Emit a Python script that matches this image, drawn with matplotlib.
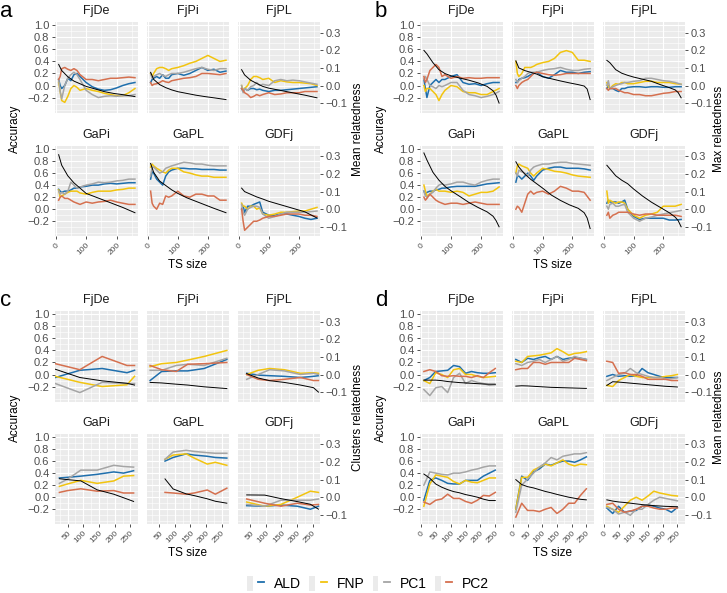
import matplotlib
matplotlib.use("Agg")
import matplotlib.pyplot as plt
from matplotlib.lines import Line2D
from matplotlib.patches import Rectangle
from matplotlib.legend_handler import HandlerTuple

plt.rcParams['font.family'] = ['Liberation Sans', 'DejaVu Sans']

W, H = 727, 593
K = 2.92            # accuracy units per relatedness unit (secondary axis)
YLIM = (-0.45, 1.05)

FACETS = ['FjDe', 'FjPi', 'FjPL', 'GaPi', 'GaPL', 'GDFj']
METHODS = ['ALD', 'FNP', 'PC1', 'PC2']
COLORS = {'ALD': '#1F6FAD', 'FNP': '#F2C40F', 'PC1': '#A5A5A5', 'PC2': '#D5704F'}

# --- panel a / b : training sets grown by relatedness ---
ab_x = [10, 15, 20, 30, 40, 50, 60, 70, 80, 100, 120, 140, 160, 180, 200, 220, 240, 260]
a_rel_x = [10, 20, 40, 60, 80, 100, 130, 160, 190, 220, 260]
b_rel_x = [10, 20, 40, 60, 80, 100, 130, 160, 190, 220, 240, 250, 260]

a_FjDe = dict(
    ALD=[0.10, 0.00, -0.05, 0.00, 0.12, 0.08, 0.18, 0.20, 0.15, 0.05, -0.02, -0.06, -0.08, -0.07, -0.04, 0.00, 0.03, 0.05],
    FNP=[0.05, -0.10, -0.25, -0.28, -0.18, -0.05, 0.00, -0.03, -0.08, -0.05, -0.08, -0.10, -0.13, -0.15, -0.17, -0.17, -0.12, -0.05],
    PC1=[0.10, -0.10, -0.22, 0.00, 0.12, 0.18, 0.22, 0.18, 0.10, -0.08, -0.15, -0.20, -0.18, -0.17, -0.18, -0.17, -0.17, -0.15],
    PC2=[0.10, 0.15, 0.28, 0.30, 0.27, 0.25, 0.28, 0.25, 0.18, 0.10, 0.10, 0.08, 0.10, 0.12, 0.12, 0.13, 0.14, 0.13],
    rel=[0.12, 0.085, 0.05, 0.025, 0.01, -0.005, -0.02, -0.035, -0.045, -0.052, -0.063])
a_FjPi = dict(
    ALD=[0.05, 0.10, 0.12, 0.15, 0.12, 0.18, 0.12, 0.12, 0.18, 0.20, 0.17, 0.20, 0.25, 0.30, 0.25, 0.27, 0.22, 0.24],
    FNP=[0.20, 0.15, 0.20, 0.28, 0.30, 0.30, 0.28, 0.25, 0.28, 0.30, 0.33, 0.37, 0.40, 0.45, 0.50, 0.45, 0.40, 0.42],
    PC1=[0.20, 0.12, 0.15, 0.18, 0.20, 0.17, 0.15, 0.18, 0.20, 0.20, 0.22, 0.25, 0.28, 0.30, 0.27, 0.25, 0.28, 0.28],
    PC2=[0.05, 0.00, 0.02, 0.03, 0.05, 0.08, 0.06, 0.05, 0.08, 0.10, 0.12, 0.13, 0.15, 0.20, 0.20, 0.19, 0.18, 0.20],
    rel=[0.075, 0.035, 0.005, -0.012, -0.025, -0.035, -0.045, -0.055, -0.063, -0.07, -0.08])
a_FjPL = dict(
    ALD=[-0.05, -0.10, -0.05, -0.08, -0.05, -0.05, -0.07, -0.06, -0.08, -0.10, -0.08, -0.08, -0.07, -0.06, -0.05, -0.04, -0.03, -0.02],
    FNP=[0.00, -0.08, -0.05, 0.00, 0.10, 0.15, 0.15, 0.13, 0.10, 0.12, 0.05, 0.08, 0.06, 0.05, 0.05, 0.04, 0.03, 0.00],
    PC1=[0.00, -0.12, -0.05, -0.08, -0.02, 0.00, 0.05, 0.00, 0.02, 0.00, 0.08, 0.10, 0.08, 0.09, 0.08, 0.06, 0.04, 0.02],
    PC2=[-0.05, -0.08, -0.12, -0.15, -0.20, -0.18, -0.15, -0.17, -0.15, -0.12, -0.15, -0.14, -0.12, -0.12, -0.12, -0.10, -0.10, -0.10],
    rel=[0.09, 0.06, 0.03, 0.012, -0.005, -0.015, -0.025, -0.035, -0.045, -0.055, -0.07])
a_GaPi = dict(
    ALD=[0.33, 0.30, 0.28, 0.30, 0.30, 0.32, 0.35, 0.35, 0.37, 0.38, 0.40, 0.40, 0.42, 0.43, 0.42, 0.43, 0.44, 0.44],
    FNP=[0.32, 0.20, 0.22, 0.25, 0.28, 0.30, 0.30, 0.30, 0.27, 0.25, 0.28, 0.30, 0.30, 0.30, 0.32, 0.33, 0.35, 0.35],
    PC1=[0.30, 0.25, 0.28, 0.25, 0.30, 0.45, 0.40, 0.35, 0.37, 0.40, 0.42, 0.45, 0.44, 0.45, 0.47, 0.48, 0.50, 0.50],
    PC2=[0.15, 0.20, 0.22, 0.18, 0.18, 0.15, 0.12, 0.10, 0.08, 0.12, 0.10, 0.12, 0.13, 0.15, 0.12, 0.10, 0.08, 0.08],
    rel=[0.31, 0.25, 0.19, 0.15, 0.12, 0.09, 0.07, 0.05, 0.03, 0.01, -0.02])
a_GaPL = dict(
    ALD=[0.50, 0.62, 0.60, 0.50, 0.45, 0.40, 0.55, 0.62, 0.65, 0.68, 0.68, 0.67, 0.67, 0.66, 0.66, 0.66, 0.65, 0.65],
    FNP=[0.70, 0.75, 0.72, 0.68, 0.65, 0.62, 0.60, 0.65, 0.68, 0.68, 0.62, 0.60, 0.57, 0.55, 0.55, 0.53, 0.53, 0.53],
    PC1=[0.55, 0.70, 0.70, 0.65, 0.60, 0.62, 0.68, 0.70, 0.72, 0.75, 0.78, 0.77, 0.75, 0.75, 0.73, 0.72, 0.72, 0.72],
    PC2=[0.30, 0.10, 0.05, 0.00, 0.10, 0.08, 0.22, 0.20, 0.22, 0.30, 0.22, 0.20, 0.25, 0.25, 0.22, 0.22, 0.15, 0.15],
    rel=[0.26, 0.21, 0.16, 0.135, 0.11, 0.09, 0.065, 0.045, 0.025, 0.005, -0.02])
a_GDFj = dict(
    ALD=[0.00, 0.05, -0.05, 0.05, 0.05, 0.08, 0.10, 0.12, -0.05, -0.10, -0.10, -0.08, -0.08, -0.10, -0.12, -0.15, -0.17, -0.15],
    FNP=[0.10, 0.05, 0.05, 0.00, 0.05, 0.05, 0.00, 0.02, -0.08, -0.10, -0.08, -0.05, -0.05, -0.04, -0.03, -0.03, 0.00, 0.03],
    PC1=[0.08, -0.05, -0.10, 0.00, 0.03, 0.05, 0.05, 0.03, -0.08, -0.15, -0.12, -0.08, -0.05, -0.05, -0.05, -0.05, -0.04, -0.03],
    PC2=[0.00, -0.20, -0.35, -0.30, -0.25, -0.20, -0.20, -0.18, -0.15, -0.12, -0.12, -0.10, -0.08, -0.08, -0.08, -0.10, -0.10, -0.12],
    rel=[0.12, 0.10, 0.085, 0.07, 0.058, 0.045, 0.03, 0.015, 0.0, -0.015, -0.05])

b_FjDe = dict(
    ALD=[0.10, -0.05, -0.20, 0.00, 0.05, 0.10, 0.05, 0.10, 0.10, 0.15, 0.18, 0.05, 0.02, 0.03, 0.00, 0.03, 0.05, 0.05],
    FNP=[0.00, -0.10, -0.05, -0.05, -0.10, -0.15, -0.25, -0.15, -0.08, 0.00, -0.02, -0.10, -0.12, -0.12, -0.15, -0.15, -0.10, -0.05],
    PC1=[0.10, 0.15, 0.10, 0.00, -0.02, -0.05, 0.00, -0.02, 0.00, 0.05, 0.05, -0.08, -0.15, -0.17, -0.20, -0.18, -0.15, -0.10],
    PC2=[0.15, 0.05, 0.10, 0.25, 0.30, 0.35, 0.30, 0.15, 0.18, 0.12, 0.15, 0.12, 0.13, 0.12, 0.12, 0.13, 0.13, 0.13],
    rel=[0.20, 0.18, 0.13, 0.09, 0.068, 0.055, 0.042, 0.03, 0.015, -0.005, -0.03, -0.055, -0.10])
b_FjPi = dict(
    ALD=[0.05, 0.05, 0.10, 0.12, 0.13, 0.15, 0.18, 0.20, 0.22, 0.15, 0.12, 0.18, 0.25, 0.22, 0.22, 0.20, 0.22, 0.23],
    FNP=[0.40, 0.20, 0.15, 0.20, 0.30, 0.30, 0.30, 0.32, 0.35, 0.38, 0.40, 0.45, 0.55, 0.58, 0.55, 0.42, 0.42, 0.40],
    PC1=[0.10, 0.05, 0.08, 0.12, 0.15, 0.20, 0.22, 0.22, 0.22, 0.25, 0.27, 0.28, 0.30, 0.27, 0.25, 0.25, 0.27, 0.28],
    PC2=[0.00, -0.05, 0.00, 0.05, 0.08, 0.10, 0.15, 0.20, 0.22, 0.20, 0.18, 0.17, 0.18, 0.20, 0.20, 0.20, 0.20, 0.20],
    rel=[0.14, 0.10, 0.085, 0.075, 0.065, 0.05, 0.038, 0.026, 0.015, 0.005, -0.003, -0.02, -0.08])
b_FjPL = dict(
    ALD=[-0.05, 0.00, -0.05, -0.05, -0.08, -0.10, -0.05, -0.05, -0.03, -0.02, -0.02, -0.03, -0.02, -0.02, -0.03, -0.03, -0.02, -0.02],
    FNP=[0.05, -0.02, -0.05, 0.00, 0.03, 0.02, 0.05, 0.05, 0.03, 0.03, 0.05, 0.07, 0.07, 0.05, 0.05, 0.05, 0.03, 0.02],
    PC1=[0.00, 0.08, -0.05, -0.02, 0.00, 0.02, 0.03, 0.05, 0.05, 0.07, 0.08, 0.12, 0.12, 0.10, 0.08, 0.07, 0.05, 0.02],
    PC2=[-0.05, -0.08, -0.05, -0.05, -0.05, -0.08, -0.10, -0.12, -0.12, -0.15, -0.15, -0.17, -0.17, -0.15, -0.13, -0.12, -0.10, -0.10],
    rel=[0.143, 0.13, 0.09, 0.07, 0.058, 0.048, 0.036, 0.024, 0.005, -0.012, -0.025, -0.04, -0.07])
b_GaPi = dict(
    ALD=[0.30, 0.25, 0.28, 0.30, 0.30, 0.32, 0.33, 0.35, 0.35, 0.37, 0.38, 0.38, 0.38, 0.38, 0.40, 0.42, 0.43, 0.44],
    FNP=[0.40, 0.30, 0.22, 0.25, 0.30, 0.33, 0.30, 0.30, 0.30, 0.28, 0.30, 0.28, 0.22, 0.25, 0.28, 0.28, 0.30, 0.37],
    PC1=[0.30, 0.22, 0.20, 0.25, 0.28, 0.35, 0.40, 0.42, 0.40, 0.42, 0.45, 0.45, 0.42, 0.40, 0.45, 0.48, 0.50, 0.50],
    PC2=[0.20, 0.15, 0.18, 0.25, 0.20, 0.15, 0.12, 0.10, 0.08, 0.10, 0.10, 0.08, 0.10, 0.12, 0.10, 0.08, 0.08, 0.08],
    rel=[0.32, 0.28, 0.21, 0.165, 0.13, 0.105, 0.072, 0.038, 0.01, -0.015, -0.04, -0.065, -0.10])
b_GaPL = dict(
    ALD=[0.45, 0.55, 0.55, 0.50, 0.55, 0.60, 0.55, 0.48, 0.55, 0.65, 0.68, 0.70, 0.70, 0.68, 0.68, 0.68, 0.67, 0.65],
    FNP=[0.60, 0.72, 0.75, 0.72, 0.70, 0.68, 0.60, 0.55, 0.60, 0.68, 0.66, 0.63, 0.62, 0.60, 0.57, 0.55, 0.54, 0.53],
    PC1=[0.60, 0.55, 0.65, 0.62, 0.60, 0.55, 0.65, 0.70, 0.72, 0.75, 0.75, 0.77, 0.78, 0.78, 0.76, 0.75, 0.74, 0.73],
    PC2=[0.00, 0.05, 0.03, -0.05, 0.10, 0.25, 0.30, 0.25, 0.28, 0.30, 0.25, 0.30, 0.38, 0.35, 0.30, 0.30, 0.28, 0.15],
    rel=[0.27, 0.24, 0.20, 0.17, 0.145, 0.12, 0.08, 0.05, 0.025, 0.005, -0.02, -0.05, -0.11])
b_GDFj = dict(
    ALD=[0.10, 0.15, 0.12, 0.12, 0.12, 0.10, 0.12, 0.15, 0.00, -0.12, -0.17, -0.15, -0.15, -0.15, -0.15, -0.18, -0.18, -0.17],
    FNP=[0.30, 0.10, 0.15, 0.12, 0.10, 0.12, 0.12, 0.10, 0.00, -0.10, -0.15, -0.10, -0.08, -0.05, 0.05, 0.05, 0.05, 0.08],
    PC1=[0.05, 0.00, 0.08, 0.10, 0.05, 0.05, 0.07, 0.08, -0.05, -0.15, -0.20, -0.15, -0.13, -0.10, -0.08, -0.06, -0.04, -0.02],
    PC2=[-0.10, -0.05, -0.15, -0.10, -0.08, -0.05, -0.05, -0.05, -0.05, -0.08, -0.10, -0.08, -0.08, -0.10, -0.10, -0.10, -0.10, -0.12],
    rel=[0.25, 0.23, 0.19, 0.165, 0.145, 0.115, 0.075, 0.04, 0.01, -0.02, -0.045, -0.065, -0.10])

# --- panel c : training sets grown by clusters (own sizes per pair) ---
c_x = dict(
    FjDe=[11, 89, 160, 239, 263],
    FjPi=[20, 57, 104, 141, 194, 267],
    FjPL=[38, 75, 112, 159, 211, 253, 269],
    GaPi=[24, 50, 92, 144, 197, 228, 260],
    GaPL=[68, 94, 136, 162, 204, 230, 267],
    GDFj=[38, 96, 148, 201, 243, 269])
c_FjDe = dict(ALD=[-0.05, 0.07, 0.10, 0.03, 0.07], FNP=[-0.03, -0.13, -0.20, -0.17, -0.03],
              PC1=[-0.15, -0.30, -0.13, -0.15, -0.15], PC2=[0.18, 0.08, 0.30, 0.15, 0.15],
              rel=[0.03, -0.017, -0.036, -0.05, -0.06])
c_FjPi = dict(ALD=[-0.10, 0.05, 0.06, 0.06, 0.10, 0.25], FNP=[0.13, 0.18, 0.20, 0.24, 0.30, 0.40],
              PC1=[0.07, 0.07, 0.15, 0.17, 0.15, 0.27], PC2=[0.15, 0.08, 0.05, 0.17, 0.18, 0.20],
              rel=[-0.045, -0.048, -0.055, -0.06, -0.07, -0.08])
c_FjPL = dict(ALD=[0.02, -0.01, -0.02, -0.03, -0.05, -0.03, -0.02], FNP=[0.00, 0.07, 0.10, 0.08, 0.02, 0.03, 0.02],
              PC1=[-0.08, 0.00, 0.08, 0.06, 0.00, 0.02, 0.00], PC2=[0.00, -0.08, -0.10, -0.08, -0.05, -0.10, -0.10],
              rel=[0.005, -0.02, -0.035, -0.045, -0.06, -0.075, -0.10])
c_GaPi = dict(ALD=[0.32, 0.33, 0.35, 0.38, 0.42, 0.40, 0.44], FNP=[0.18, 0.22, 0.28, 0.23, 0.27, 0.35, 0.36],
              PC1=[0.23, 0.30, 0.45, 0.45, 0.53, 0.51, 0.50], PC2=[0.08, 0.11, 0.14, 0.10, 0.11, 0.07, 0.07],
              rel=[0.105, 0.10, 0.093, 0.042, 0.017, -0.003, -0.024])
c_GaPL = dict(ALD=[0.60, 0.66, 0.72, 0.70, 0.68, 0.66, 0.65], FNP=[0.63, 0.70, 0.72, 0.65, 0.55, 0.58, 0.53],
              PC1=[0.63, 0.75, 0.78, 0.76, 0.74, 0.73, 0.73], PC2=[0.08, 0.07, 0.05, 0.07, 0.12, 0.05, 0.15],
              rel=[0.104, 0.047, 0.019, 0.009, -0.009, -0.023, -0.034])
c_GDFj = dict(ALD=[-0.14, -0.15, -0.13, -0.15, -0.20, -0.15], FNP=[-0.08, -0.15, -0.12, 0.00, 0.10, 0.08],
              PC1=[-0.12, -0.15, -0.05, -0.05, -0.05, -0.03], PC2=[-0.03, -0.10, -0.15, -0.10, -0.13, -0.12],
              rel=[0.013, 0.012, -0.008, -0.025, -0.04, -0.068])

# --- panel d : random training sets, mean relatedness ---
d_x = [10, 30, 50, 70, 90, 110, 130, 150, 170, 190, 210, 230, 250]
d_FjDe = dict(
    ALD=[-0.10, -0.05, 0.05, 0.06, 0.07, 0.15, 0.13, 0.02, 0.05, 0.03, 0.02, 0.02, 0.03],
    FNP=[-0.10, -0.15, 0.03, 0.00, -0.05, 0.08, 0.10, 0.00, 0.00, -0.03, -0.05, -0.04, -0.03],
    PC1=[-0.25, -0.35, -0.22, -0.20, -0.30, -0.05, 0.02, -0.15, -0.10, -0.13, -0.15, -0.18, -0.17],
    PC2=[0.05, 0.08, 0.05, -0.02, -0.03, -0.02, -0.03, -0.03, -0.05, -0.02, -0.05, 0.03, 0.10],
    rel=[-0.032, -0.032, -0.032, -0.035, -0.04, -0.043, -0.046, -0.048, -0.05, -0.052, -0.054, -0.055, -0.055])
d_FjPi = dict(
    ALD=[0.25, 0.20, 0.27, 0.25, 0.28, 0.30, 0.25, 0.30, 0.25, 0.27, 0.28, 0.27, 0.25],
    FNP=[0.22, 0.20, 0.30, 0.31, 0.32, 0.34, 0.36, 0.43, 0.38, 0.32, 0.35, 0.36, 0.38],
    PC1=[0.18, 0.15, 0.20, 0.22, 0.25, 0.20, 0.25, 0.30, 0.22, 0.25, 0.30, 0.27, 0.25],
    PC2=[0.08, 0.10, 0.10, 0.20, 0.20, 0.17, 0.20, 0.20, 0.20, 0.20, 0.27, 0.25, 0.23],
    rel=[-0.066, -0.064, -0.065, -0.067, -0.069, -0.071, -0.073, -0.074, -0.075, -0.076, -0.077, -0.078, -0.079])
d_FjPL = dict(
    ALD=[-0.03, 0.00, -0.03, -0.02, -0.03, -0.02, 0.10, 0.03, 0.00, -0.03, -0.05, -0.05, -0.05],
    FNP=[-0.18, -0.20, -0.10, -0.05, 0.00, -0.03, -0.05, -0.05, -0.05, -0.05, -0.03, -0.02, 0.00],
    PC1=[-0.10, -0.05, 0.00, 0.02, 0.10, 0.03, 0.00, -0.03, -0.05, -0.05, -0.07, -0.07, -0.05],
    PC2=[0.22, 0.20, 0.02, 0.03, 0.00, 0.00, -0.03, -0.08, -0.08, -0.08, -0.08, -0.10, -0.10],
    rel=[-0.062, -0.041, -0.043, -0.046, -0.049, -0.052, -0.055, -0.058, -0.061, -0.064, -0.067, -0.069, -0.071])
d_GaPi = dict(
    ALD=[-0.05, 0.28, 0.32, 0.28, 0.23, 0.22, 0.22, 0.28, 0.28, 0.28, 0.35, 0.40, 0.45],
    FNP=[-0.15, 0.22, 0.37, 0.35, 0.33, 0.26, 0.22, 0.28, 0.25, 0.24, 0.28, 0.32, 0.32],
    PC1=[0.20, 0.42, 0.40, 0.38, 0.37, 0.40, 0.40, 0.42, 0.45, 0.47, 0.50, 0.52, 0.52],
    PC2=[-0.08, -0.12, -0.05, -0.03, 0.05, -0.02, -0.02, -0.07, -0.10, -0.05, 0.03, 0.02, 0.08],
    rel=[0.132, 0.108, 0.075, 0.057, 0.043, 0.032, 0.025, 0.015, 0.008, 0.0, -0.011, -0.019, -0.019])
d_GaPL = dict(
    ALD=[-0.20, 0.35, 0.28, 0.42, 0.47, 0.55, 0.53, 0.57, 0.60, 0.60, 0.58, 0.62, 0.67],
    FNP=[-0.20, 0.33, 0.33, 0.45, 0.50, 0.55, 0.52, 0.57, 0.62, 0.55, 0.52, 0.55, 0.54],
    PC1=[-0.25, 0.20, 0.30, 0.40, 0.50, 0.57, 0.66, 0.62, 0.68, 0.70, 0.72, 0.72, 0.74],
    PC2=[-0.33, -0.10, -0.22, -0.22, -0.24, -0.20, -0.17, -0.27, -0.20, -0.10, -0.10, 0.03, 0.14],
    rel=[0.10, 0.072, 0.06, 0.053, 0.043, 0.033, 0.025, 0.016, 0.008, 0.0, -0.006, -0.012, -0.015])
d_GDFj = dict(
    ALD=[-0.18, -0.27, -0.15, -0.25, -0.23, -0.22, -0.15, -0.13, -0.15, -0.18, -0.20, -0.25, -0.17],
    FNP=[-0.15, -0.20, -0.25, -0.15, -0.05, 0.00, -0.05, 0.02, 0.10, 0.07, 0.05, 0.03, 0.02],
    PC1=[-0.17, -0.20, -0.28, -0.25, -0.30, -0.20, -0.20, -0.12, -0.05, 0.00, -0.02, -0.04, -0.06],
    PC2=[-0.12, -0.10, -0.20, -0.25, -0.23, -0.20, -0.15, -0.15, -0.18, -0.20, -0.20, -0.18, -0.18],
    rel=[-0.015, -0.022, -0.027, -0.03, -0.034, -0.038, -0.042, -0.045, -0.048, -0.05, -0.052, -0.053, -0.054])


def fmt(v):
    return f"{v:.1f}".replace('-', '\u2212')


def px_axes(fig, x0, x1, y0, y1):
    return fig.add_axes([x0 / W, 1 - y1 / H, (x1 - x0) / W, (y1 - y0) / H])


def draw_panel(fig, data, xs, rel_xs, cols, rows, xlim, xmaj, xmin,
               letter, right_label, ylab_x, rlab_x):
    for i, f in enumerate(FACETS):
        r, c = divmod(i, 3)
        (x0, x1), (y0, y1) = cols[c], rows[r]
        ax = px_axes(fig, x0, x1, y0, y1)
        ax.set_facecolor('#EBEBEB')
        ax.set_axisbelow(True)
        for s in ax.spines.values():
            s.set_visible(False)
        for m in METHODS:
            ax.plot(xs[f], data[f][m], color=COLORS[m], lw=1.1, solid_joinstyle='round')
        ax.set_xlim(*xlim)
        ax.set_ylim(*YLIM)
        ax.set_xticks(xmaj)
        ax.set_xticks(xmin, minor=True)
        ymaj = [-0.2, 0.0, 0.2, 0.4, 0.6, 0.8, 1.0]
        ax.set_yticks(ymaj)
        ax.set_yticks([-0.4, -0.3, -0.1, 0.1, 0.3, 0.5, 0.7, 0.9], minor=True)
        ax.grid(which='major', color='white', lw=0.8)
        ax.grid(which='minor', color='white', lw=0.4)
        ax.tick_params(which='minor', length=0)
        ax.tick_params(which='major', color='#333333', length=2.5, width=0.6,
                       labelsize=8, labelcolor='#4D4D4D', pad=1.5)
        ax.tick_params(axis='x', labelsize=6)
        if r == 1:
            ax.set_xticklabels([str(v) for v in xmaj])
            plt.setp(ax.get_xticklabels(), rotation=45, ha='right', va='top',
                     rotation_mode='anchor')
        else:
            ax.tick_params(axis='x', length=0, labelbottom=False)
        if c == 0:
            ax.set_yticklabels([fmt(v) for v in ymaj])
        else:
            ax.tick_params(axis='y', length=0, labelleft=False)

        tw = ax.twinx()
        tw.set_ylim(YLIM[0] / K, YLIM[1] / K)
        for s in tw.spines.values():
            s.set_visible(False)
        tw.plot(rel_xs[f], data[f]['rel'], color='black', lw=0.7)
        if c == 2:
            sec = [-0.1, 0.0, 0.1, 0.2, 0.3]
            tw.set_yticks(sec)
            tw.set_yticklabels([fmt(v) for v in sec])
            tw.tick_params(color='#333333', length=2.5, width=0.6,
                           labelsize=8, labelcolor='#4D4D4D', pad=1.5)
        else:
            tw.set_yticks([])

        fig.text((x0 + x1) / 2 / W, 1 - (y0 - 11) / H, f, ha='center', va='center',
                 fontsize=9, color='#1A1A1A')

    top, bot = rows[0][0], rows[1][1]
    mid = (top + bot) / 2
    fig.text(ylab_x / W, 1 - mid / H, 'Accuracy', rotation=90, ha='center',
             va='center', fontsize=8.5)
    fig.text(rlab_x / W, 1 - mid / H, right_label, rotation=90, ha='center',
             va='center', fontsize=8.5)
    fig.text((cols[0][0] + cols[2][1]) / 2 / W, 1 - (bot + 29) / H, 'TS size',
             ha='center', va='center', fontsize=8.5)
    lx = 6 if cols[0][0] < 300 else 381
    fig.text(lx / W, 1 - (top - 5.5) / H, letter, ha='center', va='baseline',
             fontsize=16)


fig = plt.figure(figsize=(W / 100, H / 100), dpi=100)

COLS_L = [(55, 138), (147, 229), (238, 320)]
COLS_R = [(420, 503), (512, 594), (603, 685)]
ROWS_T = [(22.3, 112.6), (146, 236.3)]
ROWS_B = [(311.3, 401.6), (434, 524.3)]

a_data = dict(FjDe=a_FjDe, FjPi=a_FjPi, FjPL=a_FjPL, GaPi=a_GaPi, GaPL=a_GaPL, GDFj=a_GDFj)
b_data = dict(FjDe=b_FjDe, FjPi=b_FjPi, FjPL=b_FjPL, GaPi=b_GaPi, GaPL=b_GaPL, GDFj=b_GDFj)
c_data = dict(FjDe=c_FjDe, FjPi=c_FjPi, FjPL=c_FjPL, GaPi=c_GaPi, GaPL=c_GaPL, GDFj=c_GDFj)
d_data = dict(FjDe=d_FjDe, FjPi=d_FjPi, FjPL=d_FjPL, GaPi=d_GaPi, GaPL=d_GaPL, GDFj=d_GDFj)

ab_xs = {f: ab_x for f in FACETS}
draw_panel(fig, a_data, ab_xs, {f: a_rel_x for f in FACETS}, COLS_L, ROWS_T,
           (-2, 270), [0, 100, 200], [50, 150, 250], 'a', 'Mean relatedness', 15, 358)
draw_panel(fig, b_data, ab_xs, {f: b_rel_x for f in FACETS}, COLS_R, ROWS_T,
           (-3, 273), [0, 100, 200], [50, 150, 250], 'b', 'Max relatedness', 381, 719)
draw_panel(fig, c_data, c_x, c_x, COLS_L, ROWS_B,
           (10, 274), [50, 100, 150, 200, 250], [25, 75, 125, 175, 225],
           'c', 'Clusters relatedness', 15, 358)
d_xs = {f: d_x for f in FACETS}
draw_panel(fig, d_data, d_xs, d_xs, COLS_R, ROWS_B,
           (-3, 276), [0, 50, 100, 150, 200, 250], [25, 75, 125, 175, 225, 275],
           'd', 'Mean relatedness', 381, 719)

handles = [(Rectangle((0, 0), 1, 1, facecolor='#EBEBEB', edgecolor='none'),
            Line2D([], [], color=COLORS[m], lw=1.3)) for m in METHODS]
fig.legend(handles, METHODS, loc='center', bbox_to_anchor=(368 / W, 1 - 583.5 / H),
           ncol=4, frameon=False, fontsize=10, handlelength=1.25, handleheight=1.25,
           columnspacing=0.6, handletextpad=0.7,
           handler_map={tuple: HandlerTuple(ndivide=None)})

fig.savefig('out.png', dpi=100, facecolor='white')
